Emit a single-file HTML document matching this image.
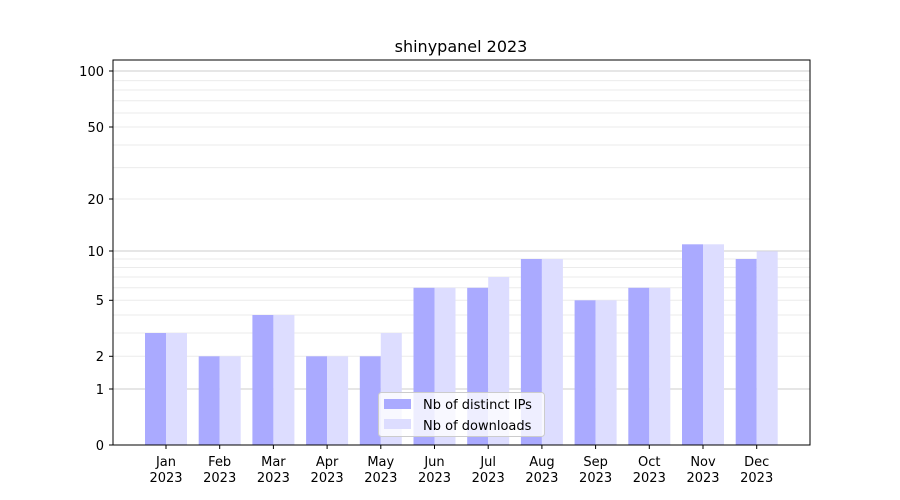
<!DOCTYPE html>
<html><head><meta charset="utf-8"><style>body{margin:0;background:#fff}svg{display:block}text{font-family:"DejaVu Sans","Liberation Sans",sans-serif;fill:#000}</style></head><body>
<svg width="900" height="500" viewBox="0 0 900 500" xmlns="http://www.w3.org/2000/svg">
<rect width="900" height="500" fill="#fff"/>
<g stroke="#ebebeb" stroke-width="1">
<line x1="113" x2="810" y1="356.3" y2="356.3"/><line x1="113" x2="810" y1="333" y2="333"/><line x1="113" x2="810" y1="315" y2="315"/><line x1="113" x2="810" y1="300.3" y2="300.3"/><line x1="113" x2="810" y1="287.8" y2="287.8"/><line x1="113" x2="810" y1="277" y2="277"/><line x1="113" x2="810" y1="267.5" y2="267.5"/><line x1="113" x2="810" y1="259" y2="259"/>
<line x1="113" x2="810" y1="199" y2="199"/><line x1="113" x2="810" y1="167.6" y2="167.6"/><line x1="113" x2="810" y1="145" y2="145"/><line x1="113" x2="810" y1="127" y2="127"/><line x1="113" x2="810" y1="113" y2="113"/><line x1="113" x2="810" y1="100.7" y2="100.7"/><line x1="113" x2="810" y1="90" y2="90"/><line x1="113" x2="810" y1="80.6" y2="80.6"/>
</g>
<g stroke="#cccccc" stroke-width="1">
<line x1="113" x2="810" y1="389" y2="389"/><line x1="113" x2="810" y1="251" y2="251"/><line x1="113" x2="810" y1="71" y2="71"/>
</g>
<g id="bars">
<rect x="145" y="333" width="21" height="112" fill="#aaaaff"/><rect x="166" y="333" width="21" height="112" fill="#ddddff"/>
<rect x="198.7" y="356.3" width="21" height="88.7" fill="#aaaaff"/><rect x="219.7" y="356.3" width="21" height="88.7" fill="#ddddff"/>
<rect x="252.4" y="315" width="21" height="130" fill="#aaaaff"/><rect x="273.4" y="315" width="21" height="130" fill="#ddddff"/>
<rect x="306.1" y="356.3" width="21" height="88.7" fill="#aaaaff"/><rect x="327.1" y="356.3" width="21" height="88.7" fill="#ddddff"/>
<rect x="359.8" y="356.3" width="21" height="88.7" fill="#aaaaff"/><rect x="380.8" y="333" width="21" height="112" fill="#ddddff"/>
<rect x="413.5" y="287.8" width="21" height="157.2" fill="#aaaaff"/><rect x="434.5" y="287.8" width="21" height="157.2" fill="#ddddff"/>
<rect x="467.2" y="287.8" width="21" height="157.2" fill="#aaaaff"/><rect x="488.2" y="277" width="21" height="168" fill="#ddddff"/>
<rect x="520.9" y="259" width="21" height="186" fill="#aaaaff"/><rect x="541.9" y="259" width="21" height="186" fill="#ddddff"/>
<rect x="574.6" y="300.3" width="21" height="144.7" fill="#aaaaff"/><rect x="595.6" y="300.3" width="21" height="144.7" fill="#ddddff"/>
<rect x="628.3" y="287.8" width="21" height="157.2" fill="#aaaaff"/><rect x="649.3" y="287.8" width="21" height="157.2" fill="#ddddff"/>
<rect x="682" y="244.3" width="21" height="200.7" fill="#aaaaff"/><rect x="703" y="244.3" width="21" height="200.7" fill="#ddddff"/>
<rect x="735.7" y="259" width="21" height="186" fill="#aaaaff"/><rect x="756.7" y="251.3" width="21" height="193.7" fill="#ddddff"/>
</g>
<rect x="113" y="60" width="697" height="385" fill="none" stroke="#000" stroke-width="1"/>
<g stroke="#000" stroke-width="1">
<line x1="109" x2="113" y1="445" y2="445"/><line x1="109" x2="113" y1="389" y2="389"/><line x1="109" x2="113" y1="356.3" y2="356.3"/><line x1="109" x2="113" y1="300.3" y2="300.3"/><line x1="109" x2="113" y1="251" y2="251"/><line x1="109" x2="113" y1="199" y2="199"/><line x1="109" x2="113" y1="127" y2="127"/><line x1="109" x2="113" y1="71" y2="71"/>
</g>
<g font-size="13" text-anchor="end">
<text x="104" y="450">0</text><text x="104" y="394">1</text><text x="104" y="361">2</text><text x="104" y="305">5</text><text x="104" y="256">10</text><text x="104" y="204">20</text><text x="104" y="132">50</text><text x="104" y="76">100</text>
</g>
<g stroke="#000"><line x1="166" x2="166" y1="445" y2="449"/><line x1="219.7" x2="219.7" y1="445" y2="449"/><line x1="273.4" x2="273.4" y1="445" y2="449"/><line x1="327.1" x2="327.1" y1="445" y2="449"/><line x1="380.8" x2="380.8" y1="445" y2="449"/><line x1="434.5" x2="434.5" y1="445" y2="449"/><line x1="488.2" x2="488.2" y1="445" y2="449"/><line x1="541.9" x2="541.9" y1="445" y2="449"/><line x1="595.6" x2="595.6" y1="445" y2="449"/><line x1="649.3" x2="649.3" y1="445" y2="449"/><line x1="703" x2="703" y1="445" y2="449"/><line x1="756.7" x2="756.7" y1="445" y2="449"/></g>
<g font-size="13" text-anchor="middle">
<text x="166" y="466">Jan</text><text x="166" y="482">2023</text>
<text x="219.7" y="466">Feb</text><text x="219.7" y="482">2023</text>
<text x="273.4" y="466">Mar</text><text x="273.4" y="482">2023</text>
<text x="327.1" y="466">Apr</text><text x="327.1" y="482">2023</text>
<text x="380.8" y="466">May</text><text x="380.8" y="482">2023</text>
<text x="434.5" y="466">Jun</text><text x="434.5" y="482">2023</text>
<text x="488.2" y="466">Jul</text><text x="488.2" y="482">2023</text>
<text x="541.9" y="466">Aug</text><text x="541.9" y="482">2023</text>
<text x="595.6" y="466">Sep</text><text x="595.6" y="482">2023</text>
<text x="649.3" y="466">Oct</text><text x="649.3" y="482">2023</text>
<text x="703" y="466">Nov</text><text x="703" y="482">2023</text>
<text x="756.7" y="466">Dec</text><text x="756.7" y="482">2023</text>
</g>
<text x="461" y="52" font-size="16" text-anchor="middle">shinypanel 2023</text>
<rect x="378.5" y="392.5" width="166" height="44" rx="3" fill="#fff" fill-opacity="0.8" stroke="#cccccc"/>
<rect x="384" y="399" width="27" height="10" fill="#aaaaff"/>
<rect x="384" y="419" width="27" height="10" fill="#ddddff"/>
<text x="423" y="409" font-size="13">Nb of distinct IPs</text>
<text x="423" y="430" font-size="13">Nb of downloads</text>
</svg>
</body></html>
